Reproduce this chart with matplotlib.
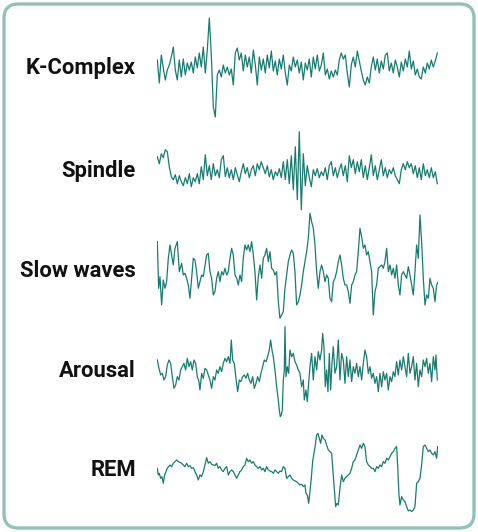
import numpy as np
import matplotlib.pyplot as plt
from matplotlib.patches import FancyBboxPatch

plt.rcParams['font.family'] = ['Roboto', 'DejaVu Sans']

LINE = '#1b7a6f'
FRAME = '#93c1ba'

labels = ['K-Complex', 'Spindle', 'Slow waves', 'Arousal', 'REM']

# K-Complex and Spindle: evenly sampled
kcomplex = [5, -18, 10, -3, -15, -5, 0, 8, 18, -5, -15, 5, -12, 6, -10, 2, -5, 3, -8, 8,
            -3, 12, -2, 18, -8, 15, 47, 10, -42, -52, -10, -5, -12, 0, -8, -2, -10, -4, -20, 12,
            17, 5, 12, -6, 10, -2, 8, -8, 15, 0, -20, 8, -5, 6, -8, 10, -3, 14, -6, 4,
            -10, 6, -4, 10, -8, -20, 0, -6, 8, -2, 5, -8, 3, -15, 2, -5, 6, -12, 8, -4,
            10, -6, 0, 12, -10, -4, -14, -6, -12, -5, -10, 5, 12, 6, 10, -8, -22, 0, 8, -2,
            14, 4, -6, -15, -20, -12, -18, -2, 8, -5, 6, -8, 4, -4, 10, 12, -6, 2, -8, 5,
            -2, -12, 3, -6, 6, -2, 14, -4, 4, -10, -4, -12, -14, -2, -8, 2, -4, 5, -2, 4, 12]

spindle = [15, 8, 18, 14, 22, 20, 5, -5, -8, -3, -12, -4, -10, -14, -6, -12, -2, -15, -6, -10,
           -2, -12, 5, -8, 17, -4, 6, -8, 8, -4, 2, -6, 12, 16, -5, 4, -6, 2, -8, 4,
           -3, -10, 0, 8, -2, 4, -6, 2, 6, -4, 8, 2, 10, 4, -2, 6, -5, 2, -8, 0,
           -4, 3, -6, 10, -8, 12, -12, 16, -18, 25, -28, 40, -38, 18, -14, 6, -6, -15, 2, -4,
           3, -6, 0, -4, 4, -8, 6, 10, -4, 4, -6, 2, 8, -4, 6, -10, 16, 4, 12, -2,
           10, 0, 12, -6, 6, -8, 4, 17, -4, 6, -8, 2, 12, -4, 4, -6, 2, -2, 4, -4,
           -8, -12, 2, 8, 2, 10, 4, 8, -2, 6, -6, 4, -8, 8, -4, 2, -6, 4, -6, 0, -12]

# Slow waves, Arousal, REM: sample times and amplitudes
slow_t = [22, 26, 30, 35, 40, 45, 50, 55, 60, 65, 70, 75, 82, 88, 95, 100, 105, 110, 115, 120,
          125, 130, 135, 140, 145, 150, 155, 160, 170, 175, 180, 185, 190, 195, 200, 205, 210, 215, 220, 225,
          230, 235, 240, 245, 250, 255, 260, 265, 270, 275, 280, 285, 290, 295, 300, 305, 310, 315, 320, 325,
          330, 335, 340, 345, 350, 355, 360, 365, 370, 375, 380, 385, 390, 395, 400, 405, 410, 415, 420, 425,
          430, 435, 440, 445, 450, 455, 460, 465, 470, 475, 480, 485, 490, 495, 500, 505, 510, 515, 520, 525,
          530, 535, 540, 545, 550, 555, 560, 565, 570, 575, 580, 585, 590, 595, 600, 605, 610, 615, 620, 625,
          630, 635, 640, 645, 650, 655, 660, 665, 670, 675, 680, 685, 690, 695, 700, 705, 710, 715, 720, 725,
          730, 735, 740, 745, 750, 755, 760, 765, 770, 775, 780, 785, 790, 795, 800, 805, 810, 815, 820, 825,
          830, 835, 840, 845, 850, 855, 860, 865]
slow_v = [80, -60, -25, -110, -35, -60, -40, 30, 70, 40, 10, 60, 80, -10, 15, -20, -15, -30, -50, -90,
          -30, 30, 25, -10, -60, -40, -20, -25, 40, 45, -10, -30, -80, -70, -30, -10, -40, -10, -20, 0,
          -20, -10, 30, 60, 40, -20, -30, -50, -20, -40, 30, 70, 55, 70, 50, 80, 40, -10, -95, -25,
          10, -30, 30, 40, 60, 20, 50, 0, -5, -20, -10, -100, -150, -140, -130, -60, -20, 20, 40, 55,
          45, -10, -110, -100, -80, -50, -10, 20, 50, 90, 165, 140, 120, 70, -10, -60, -10, 10, -10, -40,
          -20, -30, -90, -100, -40, -30, -10, 20, 40, 10, -30, -50, -50, -70, -105, -50, -40, -20, -10, 50,
          120, 95, 60, 70, 40, 50, 20, -10, -140, -70, -50, 0, 5, 10, 0, 20, 60, -10, 10, -20,
          0, -30, 10, -50, -80, -20, -10, -20, -30, 5, -20, -50, -80, -10, 70, 30, 160, 80, -30, -110,
          -80, -90, -30, -50, -60, -100, -50, -40]

arousal_t = [22, 27, 32, 37, 42, 47, 52, 57, 62, 67, 72, 77, 82, 87, 92, 97, 102, 107, 112, 117,
             122, 127, 132, 137, 142, 147, 150, 155, 160, 165, 170, 175, 180, 185, 190, 195, 200, 205, 210, 215,
             220, 225, 230, 235, 240, 244, 248, 253, 258, 263, 268, 273, 278, 283, 288, 293, 298, 303, 308, 313,
             318, 323, 328, 333, 338, 343, 348, 353, 358, 362, 366, 370, 375, 380, 385, 388, 391, 394, 397, 400,
             403, 405, 408, 412, 416, 420, 425, 430, 435, 440, 445, 450, 455, 460, 463, 468, 472, 476, 480, 485,
             490, 495, 500, 505, 510, 515, 518, 522, 526, 530, 534, 538, 542, 546, 550, 555, 560, 565, 570, 575,
             580, 585, 590, 595, 600, 605, 610, 615, 620, 625, 630, 635, 640, 645, 650, 655, 660, 665, 670, 675,
             680, 685, 690, 695, 700, 705, 710, 715, 720, 725, 730, 735, 740, 745, 750, 755, 760, 765, 770, 775,
             780, 785, 790, 795, 800, 805, 810, 815, 820, 825, 830, 835, 840, 845, 850, 855, 858, 862]
arousal_v = [30, 5, -15, -10, -30, -20, 15, 30, 20, -20, -55, -45, -20, -30, 0, 10, 20, 0, 35, 10,
             25, 0, 30, 20, -20, -35, -60, -10, -25, 5, 0, -15, -30, -55, -20, -30, 0, -10, 10, -5,
             20, 35, 25, 40, 20, 90, 30, 20, -25, -65, -30, -35, -20, -15, -25, -10, -30, -40, -20, -55,
             -40, -20, -35, -10, 10, 30, 25, 40, 60, 90, 60, 40, 0, -50, -90, -120, -140, -135, -120, -30,
             0, 130, -20, 10, -10, 60, 40, 50, 25, 15, 0, -10, -50, -30, -90, -60, -95, -40, 10, 50,
             -30, 40, 0, 55, 30, 60, 110, 70, -50, 0, -65, 50, -60, 20, 70, -10, 10, 90, -30, 50,
             30, -40, 40, -20, 30, -35, 10, -10, 20, -20, 10, -30, 20, 60, 40, -10, 10, -25, -10, -40,
             -20, -65, -10, -50, -5, -30, -10, -60, -20, -35, -5, -20, 25, -15, 30, 0, 40, 10, -20, 50,
             -10, 10, 40, -30, 20, -50, 0, -20, 30, 10, 35, -10, 20, -35, 40, 0, 45, -30]

rem_t = [22, 25, 28, 32, 36, 40, 44, 48, 52, 56, 60, 65, 70, 75, 80, 85, 90, 95, 100, 105,
         110, 115, 120, 125, 130, 135, 140, 145, 150, 155, 160, 165, 170, 175, 180, 185, 190, 195, 200, 205,
         210, 215, 220, 225, 230, 235, 240, 245, 250, 255, 260, 265, 270, 275, 280, 285, 290, 295, 300, 305,
         310, 315, 320, 325, 330, 335, 340, 345, 350, 355, 360, 365, 370, 375, 380, 385, 390, 395, 400, 405,
         410, 415, 420, 425, 430, 435, 440, 445, 450, 455, 460, 465, 468, 472, 476, 480, 484, 488, 492, 496,
         500, 504, 508, 512, 516, 520, 525, 530, 535, 540, 545, 550, 554, 557, 561, 565, 570, 575, 580, 585,
         590, 595, 600, 605, 610, 615, 620, 625, 630, 635, 640, 645, 650, 655, 660, 665, 670, 675, 680, 685,
         690, 695, 700, 705, 710, 715, 720, 725, 730, 735, 740, 743, 747, 750, 755, 760, 765, 770, 775, 780,
         785, 790, 795, 800, 805, 810, 815, 820, 825, 830, 835, 840, 845, 850, 855, 860, 863]
rem_v = [0, -20, -15, -30, -25, -45, -20, -10, 0, 5, 10, 5, 15, 20, 25, 20, 18, 15, 10, 5,
         15, 5, 8, 0, 2, -10, -20, -35, -20, -25, -10, 10, 32, 15, 20, 12, 10, 8, 15, 0,
         5, -5, -10, 0, 5, -20, -10, -5, -10, -20, -30, -20, -10, -5, 5, 10, 30, 20, 25, 15,
         20, 10, 5, 0, 5, -5, 0, -10, 5, -5, -8, -10, -15, -5, -10, -15, -8, -10, 5, 0,
         -30, -25, -20, -30, -35, -38, -40, -45, -50, -48, -55, -50, -75, -80, -105, -70, -30, 20, 45, 70,
         100, 105, 90, 75, 100, 90, 85, 70, 55, 50, 45, -20, -70, -115, -105, -110, -60, -20, -40, -30,
         -25, -20, -15, 0, 20, 25, 40, 55, 70, 60, 75, 65, 20, 10, 5, 0, 0, -10, 5, 0,
         10, 5, 20, 15, 30, 25, 35, 45, 50, 60, 65, 10, -80, -110, -85, -95, -100, -115, -128, -125,
         -130, -125, -115, -45, -40, -30, 10, 65, 70, 60, 50, 55, 45, 40, 50, 30, 65]

W, H = 478, 532
fig = plt.figure(figsize=(W / 100, H / 100), dpi=100)

frame = FancyBboxPatch((4 / W, 4 / H), (W - 8) / W, (H - 8) / H,
                       boxstyle='round,pad=0,rounding_size=0.03',
                       transform=fig.transFigure, facecolor='none',
                       edgecolor=FRAME, linewidth=2.4, mutation_aspect=W / H,
                       zorder=5)
fig.patches.append(frame)

# (x, y, top px, bottom px, baseline px, units per px, label y px)
traces = [
    (np.arange(22, 863, 6), kcomplex, 10, 125, 65, 1, 68),
    (np.arange(22, 863, 6), spindle, 125, 220, 171.7, 1, 171),
    (slow_t, slow_v, 210, 325, 268.3, 3, 271),
    (arousal_t, arousal_v, 322, 422, 370, 3, 371),
    (rem_t, rem_v, 428, 518, 468.3, 3, 470),
]

for name, (t, v, top, bot, base, k, ly) in zip(labels, traces):
    ax = fig.add_axes([157.3 / W, 1 - bot / H, 281 / W, (bot - top) / H])
    ax.plot(t, v, color=LINE, linewidth=0.9)
    ax.set_xlim(22, 865)
    ax.set_ylim((base - bot) * k, (base - top) * k)
    ax.axis('off')
    fig.text(136 / W, 1 - ly / H, name, ha='right', va='center',
             fontsize=15.8, fontweight='bold', color='#111111')

fig.savefig('out.png', dpi=100)
